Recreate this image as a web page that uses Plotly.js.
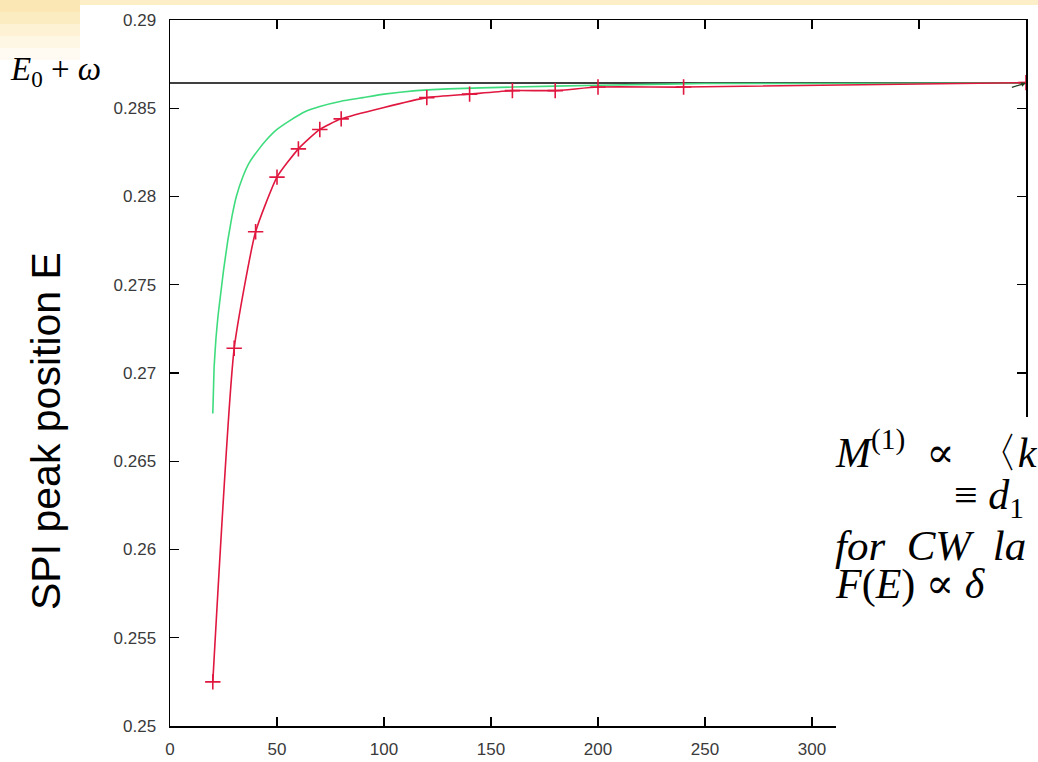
<!DOCTYPE html>
<html>
<head>
<meta charset="utf-8">
<script src="https://cdn.plot.ly/plotly-3.0.1.min.js"></script>
<style>
html,body{margin:0;padding:0;background:#fff;}
#chart{width:1038px;height:762px;}
</style>
</head>
<body>
<div id="chart"></div>
<script>
// ---- data ----
const redX = [20, 30, 40, 50, 60, 70, 80, 120, 140, 160, 180, 200, 240, 400];
const redY = [0.2525, 0.2714, 0.2780, 0.2811, 0.2827, 0.2838, 0.2844, 0.2856, 0.2858, 0.2860, 0.2860, 0.2862, 0.2862, 0.28645];

const greenX = [20, 20.6, 21.5, 22.5, 23.5, 25, 27, 29, 31, 34, 37, 41, 45, 50, 56, 63, 70, 80, 90, 100, 115, 130, 160, 200, 250, 300, 400];
const greenY = [0.2677, 0.2703, 0.2720, 0.2733, 0.2743, 0.2758, 0.2775, 0.2789, 0.2800, 0.2811, 0.2819, 0.2826, 0.2832, 0.2838, 0.2843, 0.2848, 0.2851, 0.2854, 0.2856, 0.2858, 0.2860, 0.2861, 0.2862, 0.2863, 0.2864, 0.2864, 0.28643];

const refX = [0, 400];
const refLevel = 0.28643;   // E0 + omega
const refY = refX.map(() => refLevel);

const xTicks = [0, 50, 100, 150, 200, 250, 300, 350, 400];
const yTicks = [0.25, 0.255, 0.26, 0.265, 0.27, 0.275, 0.28, 0.285, 0.29];
const yTickText = ["0.25", "0.255", "0.26", "0.265", "0.27", "0.275", "0.28", "0.285", "0.29"];

const yTitle = "SPI peak position E";
const refLabel = "<i>E</i><sub>0</sub> + <i>ω</i>";
const sideText = [
  "<i>M</i><sup>(1)</sup>  ∝  〈<i>k</i>",
  "≡ <i>d</i><sub>1</sub>",
  "<i>for  CW  la</i>",
  "<i>F</i>(<i>E</i>) ∝ <i>δ</i>"
];

// ---- geometry helpers (plot area in pixels) ----
const L = 170, R = 1026, T = 20, B = 726;
const px = v => (v - L) / (R - L);
const py = v => (B - v) / (B - T);

const traces = [
  {x: refX, y: refY, mode: 'lines', line: {color: '#000', width: 1.6}, hoverinfo: 'skip'},
  {x: greenX, y: greenY, mode: 'lines', line: {color: '#3fdc7e', width: 1.6, shape: 'spline', smoothing: 0.3}},
  {x: redX, y: redY, mode: 'lines+markers', line: {color: '#e0173f', width: 1.6, shape: 'spline', smoothing: 0.5},
   marker: {symbol: 'cross-thin-open', size: 11, line: {color: '#b0102f', width: 1.6}}}
];

const serif2 = "'Liberation Serif', 'DejaVu Serif', serif";
const annotations = [
  {xref: 'paper', yref: 'paper', x: px(46), y: py(431), text: yTitle, textangle: -90, showarrow: false,
   font: {family: "'Liberation Sans', Arial, sans-serif", size: 41, color: '#000'}, xanchor: 'center', yanchor: 'middle'},
  {xref: 'paper', yref: 'paper', x: px(8), y: py(72), text: refLabel, showarrow: false,
   font: {family: serif2, size: 33, color: '#000'}, xanchor: 'left', yanchor: 'middle'},
  {xref: 'x', yref: 'y', x: 400, y: refLevel, ax: 392, ay: refLevel - 0.0003, axref: 'x', ayref: 'y',
   showarrow: true, arrowhead: 2, arrowsize: 0.8, arrowwidth: 1.2, arrowcolor: '#1f3f1f', text: ' '},
  {xref: 'paper', yref: 'paper', x: px(833), y: py(449), text: sideText[0], showarrow: false,
   font: {family: serif2, size: 42, color: '#000'}, xanchor: 'left', yanchor: 'middle'},
  {xref: 'paper', yref: 'paper', x: px(952), y: py(498), text: sideText[1], showarrow: false,
   font: {family: serif2, size: 42, color: '#000'}, xanchor: 'left', yanchor: 'middle'},
  {xref: 'paper', yref: 'paper', x: px(833), y: py(545), text: sideText[2], showarrow: false,
   font: {family: serif2, size: 43, color: '#000'}, xanchor: 'left', yanchor: 'middle'},
  {xref: 'paper', yref: 'paper', x: px(833), y: py(584), text: sideText[3], showarrow: false,
   font: {family: serif2, size: 42, color: '#000'}, xanchor: 'left', yanchor: 'middle'}
];

const shapes = [
  // slide background: pale yellow top band and corner
  {type: 'rect', xref: 'paper', yref: 'paper', x0: px(0), x1: px(1038), y0: py(0), y1: py(5), fillcolor: '#fcefc8', line: {width: 0}, layer: 'below'},
  {type: 'rect', xref: 'paper', yref: 'paper', x0: px(0), x1: px(80), y0: py(0), y1: py(12), fillcolor: '#fbe7b4', line: {width: 0}, layer: 'below'},
  {type: 'rect', xref: 'paper', yref: 'paper', x0: px(0), x1: px(80), y0: py(12), y1: py(24), fillcolor: '#fcecc2', line: {width: 0}, layer: 'below'},
  {type: 'rect', xref: 'paper', yref: 'paper', x0: px(0), x1: px(80), y0: py(24), y1: py(36), fillcolor: '#fdf2d4', line: {width: 0}, layer: 'below'},
  {type: 'rect', xref: 'paper', yref: 'paper', x0: px(0), x1: px(80), y0: py(36), y1: py(48), fillcolor: '#fef7e4', line: {width: 0}, layer: 'below'},
  {type: 'rect', xref: 'paper', yref: 'paper', x0: px(0), x1: px(80), y0: py(48), y1: py(60), fillcolor: '#fffbf2', line: {width: 0}, layer: 'below'},
  // white text box covering the lower-right of the plot
  {type: 'rect', xref: 'paper', yref: 'paper', x0: px(836), x1: px(1045), y0: py(417), y1: py(770), fillcolor: '#ffffff', line: {width: 0}, layer: 'above'}
];

const axisCommon = {
  showgrid: false, zeroline: false, showline: true, linecolor: '#000', linewidth: 1.5,
  mirror: 'ticks', ticks: 'inside', ticklen: 9, tickwidth: 1.2, tickcolor: '#000',
  tickfont: {family: "'Liberation Sans Narrow', 'Liberation Sans', Arial, sans-serif", size: 17, color: '#3a3a3a'}
};

const layout = {
  width: 1038, height: 762,
  margin: {l: L, r: 1038 - R, t: T, b: 762 - B, pad: 0},
  paper_bgcolor: '#fff', plot_bgcolor: '#fff',
  showlegend: false,
  xaxis: Object.assign({}, axisCommon, {range: [0, 400], tickvals: xTicks, ticktext: xTicks.map(String), ticklabelstandoff: 7}),
  yaxis: Object.assign({}, axisCommon, {range: [0.25, 0.29], tickvals: yTicks, ticktext: yTickText, ticklabelstandoff: 9}),
  annotations: annotations,
  shapes: shapes
};

Plotly.newPlot('chart', traces, layout, {staticPlot: true, displayModeBar: false});
</script>
</body>
</html>
